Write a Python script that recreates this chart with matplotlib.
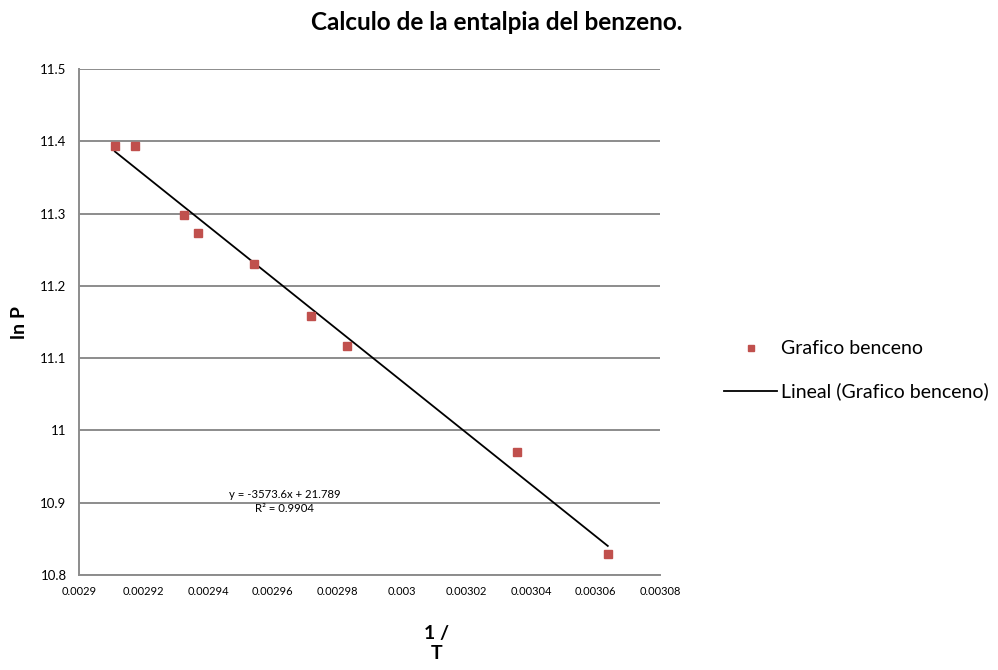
import matplotlib.pyplot as plt
from matplotlib.lines import Line2D
import numpy as np

plt.rcParams['font.family'] = ['Lato', 'DejaVu Sans']

# 1/T and ln P
inv_T = [0.0029111, 0.0029173, 0.0029325, 0.0029368, 0.0029542,
         0.0029718, 0.0029830, 0.0030356, 0.0030638]
ln_P = [11.3935, 11.393, 11.298, 11.273, 11.230,
        11.158, 11.117, 10.970, 10.829]

# linear trendline (Excel)
slope = -3573.6
intercept = 21.789
eq_label = 'y = -3573.6x + 21.789'
r2_label = 'R² = 0.9904'

x_ticks = [0.0029, 0.00292, 0.00294, 0.00296, 0.00298, 0.003,
           0.00302, 0.00304, 0.00306, 0.00308]
x_tick_labels = ['0.0029', '0.00292', '0.00294', '0.00296', '0.00298', '0.003',
                 '0.00302', '0.00304', '0.00306', '0.00308']
y_ticks = [10.8, 10.9, 11, 11.1, 11.2, 11.3, 11.4, 11.5]
y_tick_labels = ['10.8', '10.9', '11', '11.1', '11.2', '11.3', '11.4', '11.5']

red = '#C0504D'
grid_col = '#8c8c8c'

fig = plt.figure(figsize=(9.98, 6.70), dpi=100)
ax = fig.add_axes([0.0792, 0.1418, 0.5822, 0.7552])

xs = np.array([min(inv_T), max(inv_T)])
ax.plot(xs, slope * xs + intercept, color='black', lw=1.3, zorder=3)
ax.plot(inv_T, ln_P, linestyle='none', marker='s', markersize=5.5,
        color=red, zorder=4)

ax.set_xlim(0.0029, 0.00308)
ax.set_ylim(10.8, 11.5)
ax.set_xticks(x_ticks)
ax.set_xticklabels(x_tick_labels)
ax.set_yticks(y_ticks)
ax.set_yticklabels(y_tick_labels)
ax.tick_params(axis='x', length=0, labelsize=8, pad=8)
ax.tick_params(axis='y', length=0, labelsize=9.5, pad=9)
ax.grid(axis='y', color=grid_col, lw=1.4)
ax.set_axisbelow(True)
for s in ['top', 'right']:
    ax.spines[s].set_visible(False)
for s in ['left', 'bottom']:
    ax.spines[s].set_color(grid_col)
    ax.spines[s].set_linewidth(1.4)

ax.text(0.0029637, 10.912, eq_label, ha='center', va='center', fontsize=8.2)
ax.text(0.0029637, 10.892, r2_label, ha='center', va='center', fontsize=8.2)

fig.text(0.4975, 0.966, 'Calculo de la entalpia del benzeno.', ha='center',
         va='center', fontsize=17.5, fontweight='bold')
fig.text(0.02, 0.518, 'ln P', rotation=90, ha='center', va='center',
         fontsize=14, fontweight='bold')
fig.text(0.4375, 0.0396, '1 /\nT', ha='center', va='center',
         fontsize=14, fontweight='bold', linespacing=1.25)

handles = [Line2D([], [], linestyle='none', marker='s', markersize=5, color=red),
           Line2D([], [], color='black', lw=1.3)]
fig.legend(handles, ['Grafico benceno', 'Lineal (Grafico benceno)'],
           loc='center left', bbox_to_anchor=(0.7255, 0.447), frameon=False,
           fontsize=14, handlelength=2.73, handletextpad=0.2,
           labelspacing=1.3, borderpad=0, borderaxespad=0)

fig.savefig('out.png', dpi=100)
